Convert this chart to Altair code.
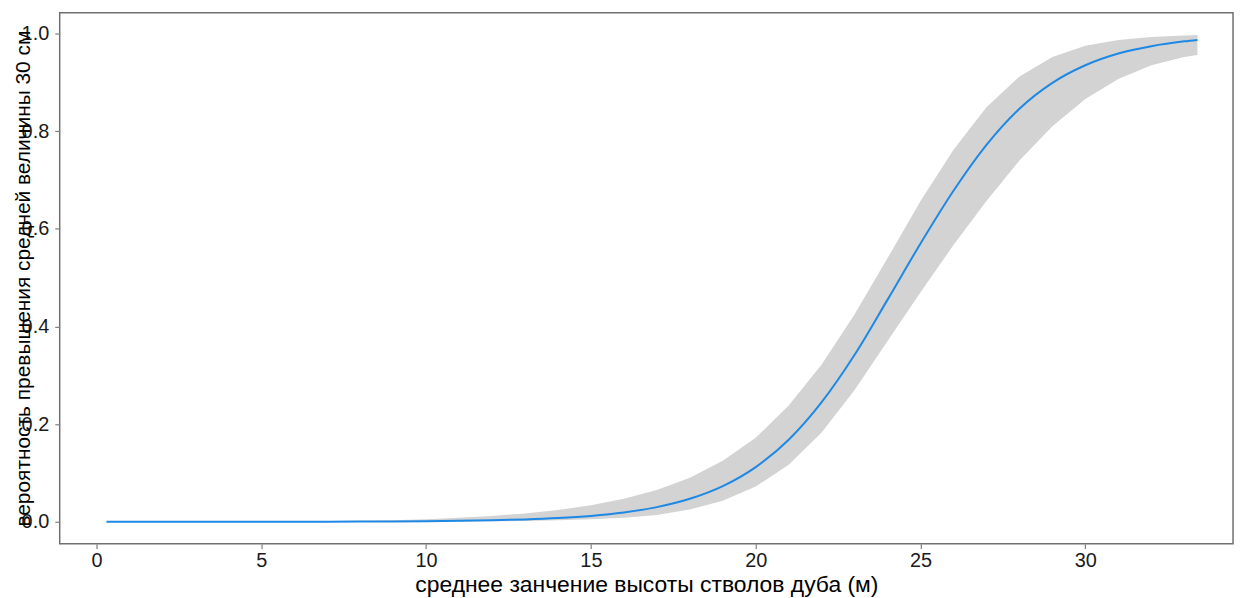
import altair as alt
import pandas as pd

# heights (m)
height = [0.3, 1, 2, 3, 4, 5, 6, 7, 8, 9, 10, 11, 12, 13, 14, 15, 16, 17, 18, 19,
          20, 21, 22, 23, 24, 25, 26, 27, 28, 29, 30, 31, 32, 33, 33.4]
# fitted probability
fit = [0.0, 0.0, 0.0, 0.0, 0.0, 0.0001, 0.0001, 0.0002, 0.0004, 0.0007, 0.0012,
       0.0019, 0.003, 0.0048, 0.0076, 0.012, 0.019, 0.030, 0.047, 0.073, 0.112,
       0.168, 0.245, 0.342, 0.455, 0.570, 0.678, 0.772, 0.846, 0.899, 0.935,
       0.959, 0.974, 0.984, 0.987]
# confidence band
upper = [0.0001, 0.0001, 0.0002, 0.0003, 0.0005, 0.0007, 0.001, 0.0015, 0.0022,
         0.0033, 0.005, 0.008, 0.012, 0.017, 0.024, 0.034, 0.047, 0.065, 0.090,
         0.125, 0.172, 0.238, 0.322, 0.425, 0.540, 0.657, 0.762, 0.849, 0.912,
         0.952, 0.975, 0.987, 0.993, 0.996, 0.997]
lower = [0.0, 0.0, 0.0, 0.0, 0.0, 0.0, 0.0, 0.0, 0.0001, 0.0001, 0.0002, 0.0004,
         0.0008, 0.0015, 0.003, 0.005, 0.008, 0.014, 0.025, 0.043, 0.072, 0.117,
         0.183, 0.270, 0.370, 0.470, 0.567, 0.657, 0.740, 0.810, 0.866, 0.907,
         0.935, 0.952, 0.956]

x_ticks = [0, 5, 10, 15, 20, 25, 30]
y_ticks = [0.0, 0.2, 0.4, 0.6, 0.8, 1.0]

df = pd.DataFrame({"x": height, "fit": fit, "lo": lower, "hi": upper})

FONT = "Liberation Sans"

xscale = alt.Scale(domain=[-1.116, 34.48], nice=False, zero=False)
yscale = alt.Scale(domain=[-0.0448, 1.0428], nice=False, zero=False)

xaxis = alt.Axis(
    title="среднее занчение высоты стволов дуба (м)",
    values=x_ticks, format="d", grid=False, domain=False,
    tickColor="#7f7f7f", tickSize=5, tickWidth=1.2, labelPadding=2,
    labelFont=FONT, labelFontSize=20, labelColor="#1a1a1a",
    titleFont=FONT, titleFontSize=23, titleFontWeight="normal", titleColor="#000000",
    titleY=48, titleX=590, titleBaseline="alphabetic",
)
yaxis = alt.Axis(
    title="вероятность превышения средней величины 30 см",
    values=y_ticks, format=".1f", grid=False, domain=False,
    tickColor="#7f7f7f", tickSize=5, tickWidth=1.2, labelPadding=6,
    labelFont=FONT, labelFontSize=20, labelColor="#1a1a1a",
    titleFont=FONT, titleFontSize=21, titleFontWeight="normal", titleColor="#000000",
    titleX=-30, titleY=267, titleBaseline="alphabetic", titleAngle=270,
)

band = alt.Chart(df).mark_area(color="#d3d3d3", opacity=1).encode(
    x=alt.X("x:Q", scale=xscale, axis=xaxis),
    y=alt.Y("lo:Q", scale=yscale, axis=yaxis),
    y2="hi:Q",
)
line = alt.Chart(df).mark_line(color="#1e88e5", strokeWidth=2, interpolate="monotone").encode(
    x=alt.X("x:Q", scale=xscale),
    y=alt.Y("fit:Q", scale=yscale),
)

chart = (band + line).properties(
    width=1180, height=534,
    background="white",
    autosize=alt.AutoSizeParams(type="none"),
    padding={"left": 52, "top": 3, "right": 4, "bottom": 53},
).configure_view(stroke="#707070", strokeWidth=1.5)

chart.save("out.html", embed_options={"renderer": "svg", "actions": False})
